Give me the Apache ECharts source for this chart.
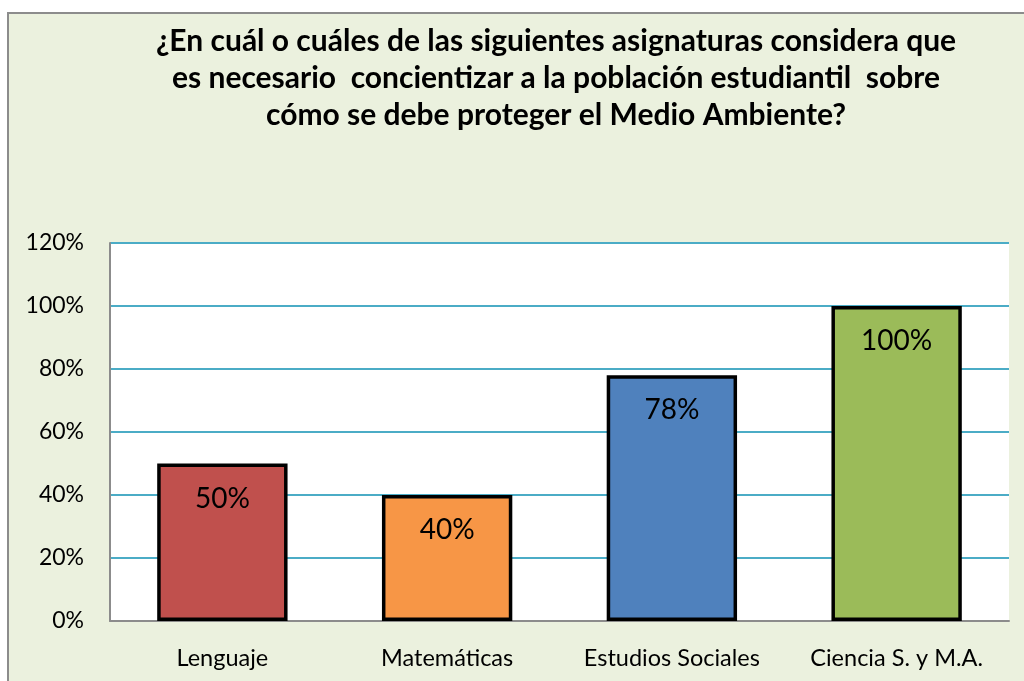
<!DOCTYPE html>
<html>
<head>
<meta charset="utf-8">
<script src="https://cdn.jsdelivr.net/npm/echarts@6/dist/echarts.min.js"></script>
<style>
  html, body { margin: 0; padding: 0; background: #fff; }
  #chart { width: 1024px; height: 681px; }
</style>
</head>
<body>
<div id="chart"></div>
<script>
// datos
var categories = ['Lenguaje', 'Matemáticas', 'Estudios Sociales', 'Ciencia S. y M.A.']
var values = [0.5, 0.4, 0.78, 1.0]
var barColors = ['#C0504D', '#F79646', '#4F81BD', '#9BBB59']
var titleLines = [
  '¿En cuál o cuáles de las siguientes asignaturas considera que',
  'es necesario  concientizar a la población estudiantil  sobre',
  'cómo se debe proteger el Medio Ambiente?'
]

var font = 'Lato'
var chart = echarts.init(document.getElementById('chart'))

function pct(v) {
  return Math.round(v * 100) + '%'
}

chart.setOption({
  animation: false,
  backgroundColor: '#fff',
  graphic: [
    {
      type: 'rect',
      z: -10,
      shape: { x: 8, y: 13, width: 1040, height: 700 },
      style: { fill: '#EBF1DE', stroke: '#8C8C8C', lineWidth: 2 }
    },
    {
      type: 'text',
      x: 556,
      y: 23,
      style: {
        text: titleLines.join('\n'),
        font: 'bold 30px "' + font + '"',
        lineHeight: 37,
        fill: '#000',
        align: 'center'
      }
    }
  ],
  grid: {
    left: 110,
    right: 15,
    top: 243,
    bottom: 60,
    show: true,
    backgroundColor: '#fff',
    borderWidth: 0
  },
  xAxis: {
    type: 'category',
    data: categories,
    axisTick: { show: false },
    axisLine: { lineStyle: { color: '#8C8C8C', width: 2 } },
    axisLabel: {
      interval: 0,
      color: '#000',
      fontFamily: font,
      fontSize: 23.5,
      margin: 25
    }
  },
  yAxis: {
    type: 'value',
    min: 0,
    max: 1.2,
    interval: 0.2,
    axisLine: { show: true, lineStyle: { color: '#8C8C8C', width: 2 } },
    axisTick: { show: false },
    splitLine: { lineStyle: { color: '#4BACC6', width: 2 } },
    axisLabel: {
      color: '#000',
      fontFamily: font,
      fontSize: 23,
      margin: 26,
      formatter: pct
    }
  },
  series: [
    {
      type: 'bar',
      barWidth: '58%',
      data: values.map(function (v, i) {
        return {
          value: v,
          itemStyle: { color: barColors[i], borderColor: '#000', borderWidth: 3.5 }
        }
      }),
      label: {
        show: true,
        position: 'insideTop',
        distance: 21,
        color: '#000',
        fontFamily: font,
        fontSize: 28,
        formatter: function (p) { return pct(p.value) }
      }
    }
  ]
})
</script>
</body>
</html>
